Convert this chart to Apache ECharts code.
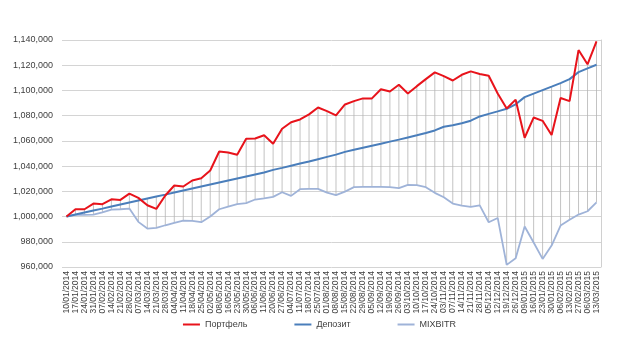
<!DOCTYPE html>
<html>
<head>
<meta charset="utf-8">
<script src="https://cdn.jsdelivr.net/npm/echarts@6/dist/echarts.min.js"></script>
<style>
html,body{margin:0;padding:0;background:#fff;}
#c{width:639px;height:361px;}
</style>
</head>
<body>
<div id="c"></div>
<script>
var categories = [
'10/01/2014','17/01/2014','24/01/2014','31/01/2014','07/02/2014','14/02/2014','21/02/2014','28/02/2014',
'07/03/2014','14/03/2014','21/03/2014','28/03/2014','04/04/2014','11/04/2014','18/04/2014','25/04/2014',
'02/05/2014','08/05/2014','16/05/2014','23/05/2014','30/05/2014','06/06/2014','11/06/2014','20/06/2014',
'27/06/2014','04/07/2014','11/07/2014','18/07/2014','25/07/2014','01/08/2014','08/08/2014','15/08/2014',
'22/08/2014','29/08/2014','05/09/2014','12/09/2014','19/09/2014','26/09/2014','03/10/2014','10/10/2014',
'17/10/2014','24/10/2014','03/11/2014','07/11/2014','14/11/2014','21/11/2014','28/11/2014','05/12/2014',
'12/12/2014','19/12/2014','26/12/2014','09/01/2015','16/01/2015','23/01/2015','30/01/2015','06/02/2015',
'13/02/2015','27/02/2015','06/03/2015','13/03/2015'
];

var portfolio = [
1000000,1005800,1005800,1010300,1009800,1013700,1013200,1018200,1014800,1009000,
1006100,1016700,1024600,1023800,1028600,1030400,1036500,1051600,1050800,1049000,
1061700,1061900,1064500,1057700,1069600,1074800,1077000,1081000,1086500,1083600,
1080300,1088900,1091500,1093700,1093700,1101000,1099200,1104500,1097600,1103400,
1109000,1114300,1111300,1107900,1112400,1115100,1113000,1111600,1097600,1085700,
1092700,1062500,1078500,1075900,1064600,1094000,1091500,1132000,1120700,1138900
];

var deposit = [
1000000,1001600,1003200,1004800,1006300,1007900,1009500,1011100,1012700,1014300,
1015900,1017400,1019000,1020600,1022200,1023800,1025400,1027000,1028600,1030200,
1031800,1033400,1035000,1037000,1038600,1040300,1042000,1043700,1045500,1047300,
1049100,1051300,1052900,1054500,1056100,1057700,1059400,1061000,1062700,1064400,
1066300,1068300,1071200,1072400,1074000,1076000,1079400,1081400,1083400,1085500,
1089000,1094700,1097500,1100300,1103000,1105800,1109000,1114500,1117500,1120400
];

var mixbitr = [
1000000,1001300,1001300,1001600,1003400,1005500,1005800,1006300,995800,990500,
991000,993100,995000,996800,996600,995500,1000000,1005800,1007900,1009800,
1010600,1013500,1014500,1015600,1019300,1016400,1021700,1022000,1022000,1019000,
1017000,1019800,1023300,1023500,1023500,1023500,1023300,1022500,1025100,1024900,
1023300,1018800,1015300,1010300,1008700,1007700,1008900,995500,998900,961700,
966900,992100,979400,966400,977000,992900,997400,1001600,1004200,1011300
];

var seriesNames = ['Портфель','Депозит','MIXBITR'];
var yTicks = {min: 960000, max: 1140000, interval: 20000};

var hiLow = categories.map(function(c, i){
  var a = [portfolio[i], deposit[i], mixbitr[i]];
  return [i, Math.min.apply(null, a), Math.max.apply(null, a)];
});

function fmt(v){
  return String(Math.round(v)).replace(/\B(?=(\d{3})+(?!\d))/g, ',');
}

var chart = echarts.init(document.getElementById('c'), null, {renderer:'canvas'});
var font = 'Liberation Sans, Arial, sans-serif';
chart.setOption({
  animation: false,
  backgroundColor: '#ffffff',
  grid: {left: 62, right: 38, top: 40, bottom: 94},
  legend: {
    data: seriesNames,
    bottom: 27,
    left: 'center',
    icon: 'rect',
    itemWidth: 17,
    itemHeight: 2,
    itemGap: 47,
    textStyle: {fontFamily: font, fontSize: 9, color: '#404040'}
  },
  xAxis: {
    type: 'category',
    data: categories,
    boundaryGap: true,
    axisLine: {show: false},
    axisTick: {show: false},
    axisLabel: {interval: 0, rotate: 90, fontFamily: font, fontSize: 8.5, color: '#404040', margin: 4}
  },
  yAxis: [{
    type: 'value',
    min: yTicks.min, max: yTicks.max, interval: yTicks.interval,
    axisLine: {show: false},
    axisTick: {show: false},
    axisLabel: {fontFamily: font, fontSize: 9, color: '#404040', margin: 9, formatter: fmt},
    splitLine: {lineStyle: {color: '#d4d4d4', width: 1}}
  },{
    type: 'value', position: 'right',
    min: yTicks.min, max: yTicks.max, interval: yTicks.interval,
    axisLine: {show: true, lineStyle: {color: '#d0d0d0', width: 1}},
    axisTick: {show: false}, axisLabel: {show: false}, splitLine: {show: false}
  }],
  series: [
    {
      type: 'custom',
      name: 'hilo',
      z: 1,
      silent: true,
      data: hiLow,
      renderItem: function(params, api){
        var p1 = api.coord([api.value(0), api.value(1)]);
        var p2 = api.coord([api.value(0), api.value(2)]);
        return {type: 'line', shape: {x1: p1[0], y1: p1[1], x2: p2[0], y2: p2[1]},
          style: {stroke: '#b4b4b4', lineWidth: 0.8}};
      }
    },
    {name: seriesNames[2], type: 'line', data: mixbitr, symbol: 'none', z: 3,
      lineStyle: {color: '#9fb3d8', width: 1.8}, itemStyle: {color: '#9fb3d8'}},
    {name: seriesNames[1], type: 'line', data: deposit, symbol: 'none', z: 4,
      lineStyle: {color: '#4a7ebb', width: 2}, itemStyle: {color: '#4a7ebb'}},
    {name: seriesNames[0], type: 'line', data: portfolio, symbol: 'none', z: 5,
      lineStyle: {color: '#e8131b', width: 2}, itemStyle: {color: '#e8131b'}}
  ]
});
</script>
</body>
</html>
